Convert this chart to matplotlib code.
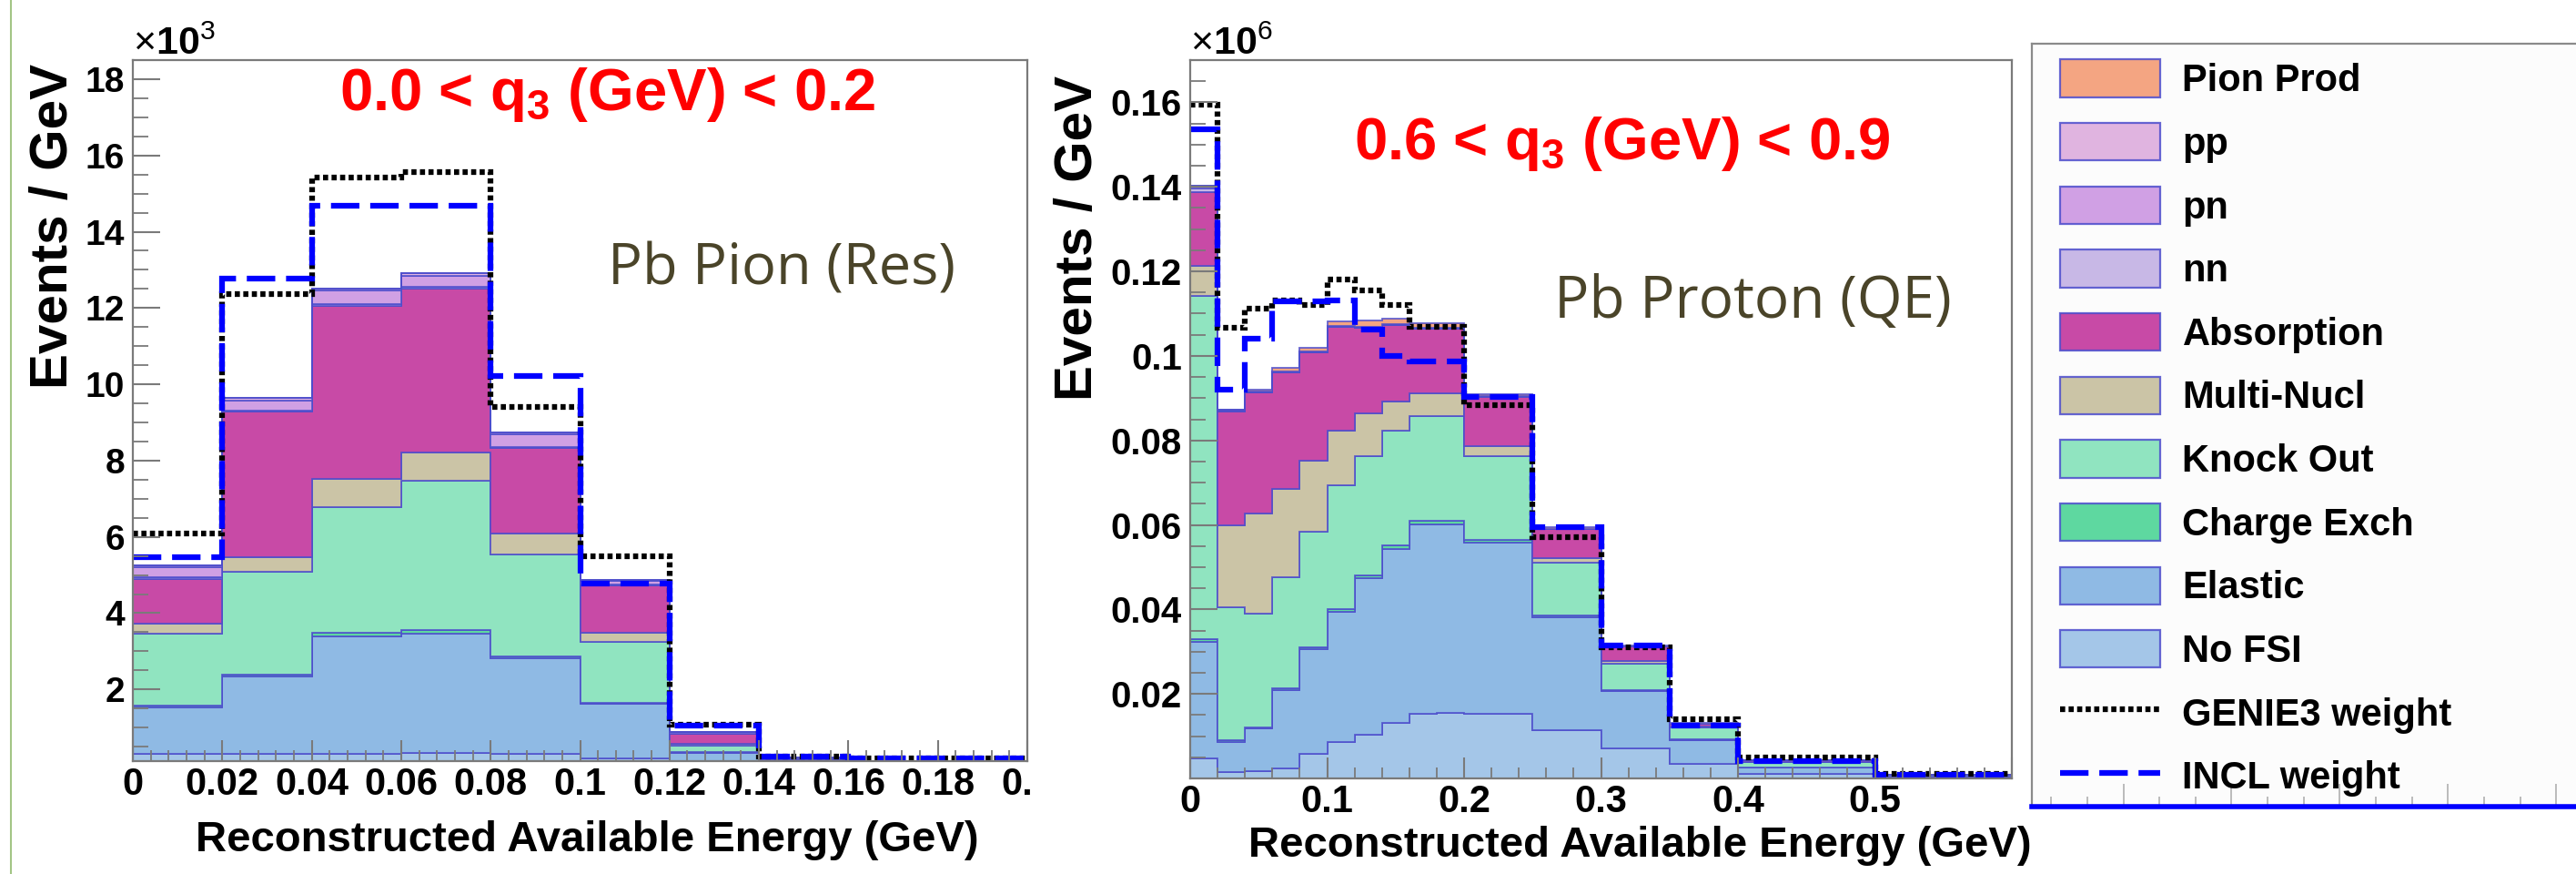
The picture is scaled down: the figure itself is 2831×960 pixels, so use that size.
import matplotlib
matplotlib.use("Agg")
import numpy as np
import matplotlib.pyplot as plt
from matplotlib.patches import Patch
from matplotlib.lines import Line2D
from matplotlib.ticker import MultipleLocator, FixedLocator, FixedFormatter
from matplotlib.transforms import Bbox

plt.rcParams['font.family'] = ['Liberation Sans', 'DejaVu Sans']
plt.rcParams['mathtext.fontset'] = 'custom'
plt.rcParams['mathtext.rm'] = 'Liberation Sans'
plt.rcParams['mathtext.bf'] = 'Liberation Sans:bold'
plt.rcParams['mathtext.it'] = 'Liberation Sans:italic'

# ---------------- data ----------------
components = ["No FSI", "Elastic", "Charge Exch", "Knock Out", "Multi-Nucl",
              "Absorption", "nn", "pn", "pp", "Pion Prod"]
comp_colors = ["#A4C6E8", "#8FBAE4", "#5ED8A0", "#90E4C0", "#CBC4A6",
               "#C84AA6", "#C8B8E6", "#D0A0E4", "#E0B4E0", "#F4A582"]

# Left panel: 0.0 < q3 < 0.2, Pb Pion (Res), units of 10^3 events/GeV
left_edges = [0.0, 0.02, 0.04, 0.06, 0.08, 0.10, 0.12, 0.14, 0.16, 0.18, 0.20]
left_nofsi = [0.30, 0.30, 0.30, 0.33, 0.30, 0.20, 0.06, 0.02, 0.01, 0.01]
left_elastic = [1.22, 2.03, 3.10, 3.12, 2.52, 1.42, 0.27, 0.10, 0.04, 0.02]
left_chex = [0.05, 0.05, 0.08, 0.10, 0.05, 0.03, 0.02, 0.00, 0.00, 0.00]
left_knock = [1.90, 2.71, 3.30, 3.92, 2.68, 1.59, 0.18, 0.03, 0.01, 0.01]
left_multi = [0.25, 0.38, 0.74, 0.75, 0.53, 0.25, 0.04, 0.01, 0.00, 0.00]
left_absorp = [1.18, 3.81, 4.53, 4.28, 2.24, 1.24, 0.26, 0.04, 0.02, 0.01]
left_nn = [0.04, 0.04, 0.05, 0.05, 0.04, 0.02, 0.01, 0.00, 0.00, 0.00]
left_pn = [0.26, 0.26, 0.35, 0.30, 0.32, 0.10, 0.04, 0.01, 0.00, 0.00]
left_pp = [0.05, 0.06, 0.06, 0.06, 0.05, 0.02, 0.01, 0.00, 0.00, 0.00]
left_pion = [0.01, 0.01, 0.01, 0.01, 0.01, 0.00, 0.00, 0.00, 0.00, 0.00]
left_genie = [6.09, 12.36, 15.41, 15.57, 9.40, 5.50, 1.08, 0.25, 0.20, 0.20]
left_incl = [5.47, 12.76, 14.67, 14.69, 10.22, 4.78, 1.05, 0.24, 0.19, 0.19]

# Right panel: 0.6 < q3 < 0.9, Pb Proton (QE), units of 10^6 events/GeV
right_edges = [0.0, 0.02, 0.04, 0.06, 0.08, 0.10, 0.12, 0.14, 0.16, 0.18,
               0.20, 0.25, 0.30, 0.35, 0.40, 0.50, 0.60]
right_nofsi = [0.0048, 0.0015, 0.0017, 0.0024, 0.0058, 0.0087, 0.0103, 0.0131,
               0.0153, 0.0155, 0.0153, 0.0115, 0.0072, 0.0034, 0.0010, 0.0002]
right_elastic = [0.0275, 0.0072, 0.0101, 0.0186, 0.0247, 0.0307, 0.0371, 0.0413,
                 0.0449, 0.0447, 0.0406, 0.0267, 0.0134, 0.0057, 0.0015, 0.0003]
right_chex = [0.0006, 0.0003, 0.0003, 0.0004, 0.0005, 0.0006, 0.0006, 0.0007,
              0.0007, 0.0007, 0.0006, 0.0004, 0.0002, 0.0001, 0.0000, 0.0000]
right_knock = [0.0813, 0.0314, 0.0270, 0.0263, 0.0274, 0.0294, 0.0282, 0.0273,
               0.0249, 0.0249, 0.0197, 0.0125, 0.0064, 0.0029, 0.0013, 0.0003]
right_multi = [0.0072, 0.0194, 0.0236, 0.0208, 0.0168, 0.0128, 0.0101, 0.0068,
               0.0053, 0.0053, 0.0024, 0.0010, 0.0005, 0.0002, 0.0001, 0.0000]
right_absorp = [0.0173, 0.0271, 0.0286, 0.0275, 0.0256, 0.0246, 0.0203, 0.0181,
                0.0153, 0.0153, 0.0116, 0.0069, 0.0036, 0.0007, 0.0005, 0.0001]
right_nn = [0.0010, 0.0001, 0.0001, 0.0001, 0.0001, 0.0001, 0.0001, 0.0001,
            0.0001, 0.0001, 0.0001, 0.0000, 0.0000, 0.0000, 0.0000, 0.0000]
right_pn = [0.0003, 0.0001, 0.0001, 0.0001, 0.0001, 0.0001, 0.0001, 0.0001,
            0.0001, 0.0001, 0.0001, 0.0001, 0.0000, 0.0000, 0.0000, 0.0000]
right_pp = [0.0002, 0.0001, 0.0001, 0.0001, 0.0001, 0.0001, 0.0001, 0.0001,
            0.0001, 0.0001, 0.0000, 0.0000, 0.0000, 0.0000, 0.0000, 0.0000]
right_pion = [0.0000, 0.0000, 0.0004, 0.0008, 0.0008, 0.0010, 0.0014, 0.0012,
              0.0010, 0.0010, 0.0006, 0.0003, 0.0002, 0.0001, 0.0000, 0.0000]
right_genie = [0.1594, 0.1067, 0.1112, 0.1132, 0.1120, 0.1180, 0.1154, 0.1121,
               0.1068, 0.1068, 0.0884, 0.0570, 0.0310, 0.0140, 0.0050, 0.0010]
right_incl = [0.1537, 0.0919, 0.1040, 0.1130, 0.1128, 0.1132, 0.1062, 0.1000,
              0.0987, 0.0987, 0.0902, 0.0594, 0.0314, 0.0125, 0.0040, 0.0008]

left_layers = [left_nofsi, left_elastic, left_chex, left_knock, left_multi,
               left_absorp, left_nn, left_pn, left_pp, left_pion]
right_layers = [right_nofsi, right_elastic, right_chex, right_knock, right_multi,
                right_absorp, right_nn, right_pn, right_pp, right_pion]

left_xticks = [0, 0.02, 0.04, 0.06, 0.08, 0.1, 0.12, 0.14, 0.16, 0.18, 0.2]
left_xticklabels = ["0", "0.02", "0.04", "0.06", "0.08", "0.1", "0.12", "0.14",
                    "0.16", "0.18", "0.2"]
left_yticks = [2, 4, 6, 8, 10, 12, 14, 16, 18]
left_yticklabels = ["2", "4", "6", "8", "10", "12", "14", "16", "18"]
right_xticks = [0, 0.1, 0.2, 0.3, 0.4, 0.5, 0.6]
right_xticklabels = ["0", "0.1", "0.2", "0.3", "0.4", "0.5", ""]
right_yticks = [0.02, 0.04, 0.06, 0.08, 0.10, 0.12, 0.14, 0.16]
right_yticklabels = ["0.02", "0.04", "0.06", "0.08", "0.1", "0.12", "0.14", "0.16"]

# ---------------- styling ----------------
W, H = 2831, 960
fig = plt.figure(figsize=(W / 100, H / 100), dpi=100)
fig.patch.set_facecolor("white")

EDGE = (0.30, 0.30, 0.80, 0.85)
AXCOL = "#7a7a7a"
GENIE_LS = (0, (0.9, 0.6))
INCL_LS = (0, (5.0, 1.9))
LINE_LW = 4.5


def px_axes(l, t, r, b):
    return fig.add_axes([l / W, 1 - b / H, (r - l) / W, (b - t) / H])


def draw_panel(ax, edges, layers, genie, incl):
    base = np.zeros(len(edges) - 1)
    for vals, col in zip(layers, comp_colors):
        top = base + np.asarray(vals)
        ax.stairs(top, edges, baseline=base, fill=True, facecolor=col,
                  edgecolor=EDGE, linewidth=1.3)
        base = top
    ax.stairs(genie, edges, baseline=None, color="black", lw=LINE_LW,
              linestyle=GENIE_LS)
    ax.stairs(incl, edges, baseline=None, color="#0000FF", lw=LINE_LW,
              linestyle=INCL_LS)


def style_axes(ax, xt, xtl, yt, ytl, xminor, yminor, xfs, yfs):
    for s in ax.spines.values():
        s.set_color(AXCOL)
        s.set_linewidth(1.6)
    ax.xaxis.set_major_locator(FixedLocator(xt))
    ax.xaxis.set_major_formatter(FixedFormatter(xtl))
    ax.yaxis.set_major_locator(FixedLocator(yt))
    ax.yaxis.set_major_formatter(FixedFormatter(ytl))
    ax.xaxis.set_minor_locator(MultipleLocator(xminor))
    ax.yaxis.set_minor_locator(MultipleLocator(yminor))
    ax.tick_params(axis="x", which="major", direction="in", length=16.5, width=1.5,
                   color=AXCOL, labelsize=xfs, pad=4)
    ax.tick_params(axis="x", which="minor", direction="in", length=9, width=1.3,
                   color=AXCOL)
    ax.tick_params(axis="y", which="major", direction="in", length=21.5, width=1.5,
                   color=AXCOL, labelsize=yfs, pad=6.5)
    ax.tick_params(axis="y", which="minor", direction="in", length=12, width=1.3,
                   color=AXCOL)
    for lab in ax.get_xticklabels() + ax.get_yticklabels():
        lab.set_fontweight("bold")


# Left panel
axL = px_axes(146, 66, 1129, 836)
draw_panel(axL, left_edges, left_layers, left_genie, left_incl)
axL.set_xlim(0, 0.2)
axL.set_ylim(0.12, 18.5)
style_axes(axL, left_xticks, left_xticklabels, left_yticks, left_yticklabels,
           0.004, 0.5, 30, 28)

# Right panel
axR = px_axes(1308, 66, 2211, 855)
draw_panel(axR, right_edges, right_layers, right_genie, right_incl)
axR.set_xlim(0, 0.6)
axR.set_ylim(0, 0.17)
style_axes(axR, right_xticks, right_xticklabels, right_yticks, right_yticklabels,
           0.02, 0.005, 30, 29)

# clip the left panel's last x label like the cropped original
clipbox = Bbox([[0, 0], [1134, H]])
for t in axL.get_xticklabels():
    t.set_clip_box(clipbox)
    t.set_clip_on(True)

# Third (cropped) panel holding the legend
ax3 = px_axes(2233, 48, 2845, 886)
ax3.set_facecolor("#FCFCFC")
ax3.set_xlim(-0.845, 4.3)
ax3.set_ylim(0, 1)
ax3.spines["right"].set_visible(False)
ax3.spines["left"].set_color("#8a8a8a")
ax3.spines["top"].set_color("#8a8a8a")
ax3.spines["left"].set_linewidth(1.6)
ax3.spines["top"].set_linewidth(1.6)
ax3.spines["bottom"].set_color("#0000FF")
ax3.spines["bottom"].set_linewidth(4.0)
ax3.xaxis.set_major_locator(MultipleLocator(1))
ax3.xaxis.set_minor_locator(MultipleLocator(1 / 3))
ax3.tick_params(axis="x", which="major", direction="in", length=18, width=1.2,
                color="#b0b0b0", labelbottom=False)
ax3.tick_params(axis="x", which="minor", direction="in", length=8, width=1.2,
                color="#b0b0b0")
ax3.set_yticks([])

handles = [Patch(facecolor=c, edgecolor=EDGE, lw=1.6)
           for c in reversed(comp_colors)]
handles += [Line2D([], [], color="black", lw=LINE_LW, linestyle=GENIE_LS),
            Line2D([], [], color="#0000FF", lw=LINE_LW, linestyle=INCL_LS)]
labels = list(reversed(components)) + ["GENIE3 weight", "INCL weight"]
leg = ax3.legend(handles, labels, loc="upper left",
                 bbox_to_anchor=((2233 + 13) / W, 1 - 48 / H),
                 bbox_transform=fig.transFigure, frameon=False,
                 prop={"weight": "bold", "size": 30},
                 handlelength=2.66, handleheight=1.15, handletextpad=0.58,
                 labelspacing=0.62, borderpad=0.42, borderaxespad=0)

# Titles and annotations
fig.text(668 / W, 1 - 121 / H, r"0.0 < q$_{\mathbf{3}}$ (GeV) < 0.2",
         color="#FF0000", fontsize=47, fontweight="bold", ha="center",
         va="baseline")
fig.text(1783 / W, 1 - 175 / H, r"0.6 < q$_{\mathbf{3}}$ (GeV) < 0.9",
         color="#FF0000", fontsize=47, fontweight="bold", ha="center",
         va="baseline")
fig.text(668 / W, 1 - 313 / H, "Pb Pion (Res)", color="#4A4429",
         fontsize=45.5, family="Open Sans", ha="left", va="baseline")
fig.text(1708 / W, 1 - 349 / H, "Pb Proton (QE)", color="#4A4429",
         fontsize=46, family="Open Sans", ha="left", va="baseline")

fig.text(146 / W, 1 - 60 / H, r"$\times$10$^{3}$", fontsize=31,
         fontweight="bold", ha="left", va="baseline")
fig.text(1308 / W, 1 - 60 / H, r"$\times$10$^{6}$", fontsize=31,
         fontweight="bold", ha="left", va="baseline")

fig.text(59 / W, 1 - 70 / H, "Events / GeV", rotation=90, fontsize=42,
         fontweight="bold", ha="center", va="top")
fig.text(1185 / W, 1 - 83 / H, "Events / GeV", rotation=90, fontsize=42,
         fontweight="bold", ha="center", va="top")

fig.text(645 / W, 1 - 935 / H, "Reconstructed Available Energy (GeV)",
         fontsize=34, fontweight="bold", ha="center", va="baseline")
fig.text(1802 / W, 1 - 941 / H, "Reconstructed Available Energy (GeV)",
         fontsize=34, fontweight="bold", ha="center", va="baseline")

# thin slide border line at the far left
fig.add_artist(Line2D([12 / W, 12 / W], [0, 1], transform=fig.transFigure,
                      color="#A3C585", lw=1.5))

fig.savefig("out.png", dpi=100)
